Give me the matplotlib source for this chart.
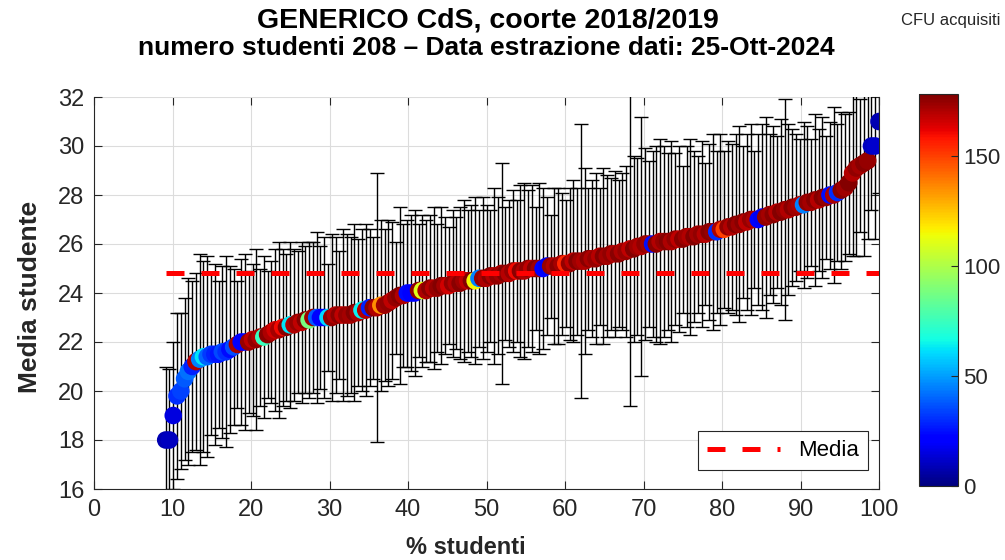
import numpy as np
import matplotlib
matplotlib.use("Agg")
import matplotlib.pyplot as plt

plt.rcParams.update({
    "font.family": ["Liberation Sans", "DejaVu Sans"],
    "axes.edgecolor": "#262626",
    "xtick.color": "#262626",
    "ytick.color": "#262626",
})

# dati: studenti ordinati per media crescente
N_STUDENTI = 208
PRIMO_RANGO = 19          # i primi 18 studenti non hanno esami -> non in grafico
MEDIA = 24.8              # media complessiva (linea tratteggiata)
CFU_MAX = 178

MEDIE = [
    18.0, 18.0, 19.0, 19.8, 20.0, 20.5, 20.8, 21.0, 21.2, 21.3,
    21.4, 21.4, 21.5, 21.5, 21.5, 21.6, 21.6, 21.7, 21.8, 21.9,
    22.0, 22.0, 22.0, 22.1, 22.1, 22.2, 22.2, 22.3, 22.4, 22.5,
    22.5, 22.6, 22.6, 22.7, 22.7, 22.8, 22.8, 22.9, 22.9, 23.0,
    23.0, 23.0, 23.0, 23.0, 23.0, 23.1, 23.1, 23.1, 23.1, 23.1,
    23.2, 23.2, 23.3, 23.3, 23.4, 23.4, 23.4, 23.5, 23.5, 23.6,
    23.7, 23.8, 23.9, 23.9, 24.0, 24.0, 24.0, 24.1, 24.1, 24.1,
    24.2, 24.2, 24.2, 24.3, 24.3, 24.3, 24.4, 24.4, 24.4, 24.5,
    24.5, 24.5, 24.5, 24.6, 24.6, 24.6, 24.7, 24.7, 24.7, 24.8,
    24.8, 24.8, 24.9, 24.9, 24.9, 24.9, 25.0, 25.0, 25.0, 25.0,
    25.0, 25.1, 25.1, 25.1, 25.1, 25.2, 25.2, 25.2, 25.3, 25.3,
    25.3, 25.3, 25.4, 25.4, 25.4, 25.5, 25.5, 25.5, 25.6, 25.6,
    25.6, 25.7, 25.7, 25.8, 25.8, 25.9, 25.9, 26.0, 26.0, 26.0,
    26.0, 26.1, 26.1, 26.1, 26.1, 26.2, 26.2, 26.2, 26.3, 26.3,
    26.3, 26.4, 26.4, 26.4, 26.5, 26.5, 26.5, 26.6, 26.6, 26.7,
    26.7, 26.8, 26.8, 26.9, 26.9, 27.0, 27.0, 27.0, 27.1, 27.1,
    27.2, 27.2, 27.3, 27.3, 27.4, 27.4, 27.5, 27.5, 27.6, 27.6,
    27.7, 27.7, 27.8, 27.8, 27.9, 27.9, 28.0, 28.0, 28.1, 28.2,
    28.3, 28.5, 28.9, 29.1, 29.2, 29.3, 29.4, 30.0, 30.0, 31.0,
]

DEV_STD = [
    3.0, 2.9, 3.0, 3.4, 3.2, 3.3, 3.8, 3.5, 3.6, 4.3,
    3.9, 4.1, 3.3, 3.7, 3.0, 3.5, 3.9, 3.4, 3.2, 2.6,
    3.4, 3.6, 2.9, 3.1, 3.7, 2.8, 3.3, 2.6, 2.9, 3.3,
    3.6, 3.2, 3.0, 3.4, 3.1, 2.9, 3.3, 3.0, 3.2, 3.1,
    3.5, 2.9, 3.3, 2.2, 3.4, 3.2, 2.6, 3.5, 3.3, 3.2,
    3.6, 3.0, 3.3, 3.5, 3.2, 2.9, 5.5, 3.5, 3.1, 3.4,
    3.2, 2.3, 3.6, 2.9, 3.0, 3.2, 3.4, 2.7, 3.1, 2.9,
    3.0, 3.3, 2.6, 3.2, 2.8, 2.4, 3.0, 2.7, 3.1, 3.3,
    2.9, 3.1, 3.4, 2.8, 3.3, 3.0, 2.7, 3.6, 3.2, 4.5,
    2.7, 3.0, 3.3, 2.9, 3.5, 3.6, 3.2, 3.4, 2.5, 3.5,
    3.3, 2.8, 2.1, 3.2, 3.2, 2.9, 2.6, 3.1, 3.3, 3.0,
    5.6, 3.8, 2.9, 3.2, 3.5, 2.8, 3.6, 3.3, 3.1, 3.4,
    3.0, 3.2, 3.5, 6.4, 3.8, 3.6, 5.3, 3.9, 3.4, 3.8,
    4.0, 4.2, 3.9, 3.6, 4.1, 3.5, 3.8, 3.0, 3.7, 4.0,
    3.5, 3.2, 3.8, 2.9, 3.6, 4.0, 3.3, 3.9, 3.2, 3.5,
    3.4, 3.7, 4.0, 3.1, 3.6, 3.9, 2.8, 3.5, 3.8, 4.1,
    3.3, 3.6, 3.1, 3.8, 4.5, 3.5, 3.2, 3.0, 2.7, 3.4,
    3.1, 2.6, 3.5, 2.9, 3.3, 2.5, 3.0, 3.6, 2.8, 3.2,
    3.0, 2.9, 3.4, 3.6, 2.7, 3.8, 3.2, 2.6, 3.8, 2.9,
]

CFU = [
    8, 10, 15, 30, 34, 38, 42, 28, 170, 45,
    62, 40, 32, 28, 26, 35, 30, 24, 36, 172,
    22, 20, 174, 168, 175, 170, 75, 176, 171, 165,
    172, 160, 176, 62, 170, 174, 168, 177, 88, 173,
    38, 20, 22, 60, 175, 170, 176, 168, 174, 172,
    177, 171, 64, 169, 28, 176, 170, 135, 173, 175,
    168, 174, 177, 170, 24, 20, 22, 175, 110, 171,
    176, 169, 174, 177, 172, 165, 175, 170, 176, 173,
    168, 177, 115, 45, 174, 171, 176, 170, 175, 172,
    177, 169, 174, 160, 176, 171, 175, 168, 177, 173,
    22, 18, 174, 170, 176, 172, 155, 175, 168, 177,
    173, 170, 176, 171, 174, 169, 177, 172, 175, 170,
    176, 171, 174, 168, 177, 173, 170, 175, 172, 25,
    176, 170, 174, 177, 171, 175, 168, 176, 173, 170,
    177, 172, 175, 169, 176, 174, 30, 171, 150, 175,
    170, 177, 173, 176, 168, 174, 171, 20, 18, 175,
    172, 176, 169, 177, 174, 170, 176, 173, 171, 45,
    175, 172, 176, 169, 177, 174, 25, 171, 30, 176,
    173, 177, 170, 175, 172, 176, 174, 10, 12, 8,
]

TITOLO = "GENERICO CdS, coorte 2018/2019"
SOTTOTITOLO = "numero studenti 208 \u2013 Data estrazione dati: 25-Ott-2024"

W, H = 1005, 560
fig = plt.figure(figsize=(W / 100, H / 100), dpi=100)
ax = fig.add_axes([94 / W, 1 - 489 / H, 785 / W, 392 / H])

perc = (PRIMO_RANGO + np.arange(len(MEDIE))) / N_STUDENTI * 100

ax.errorbar(perc, MEDIE, yerr=DEV_STD, fmt="none", ecolor="black",
            elinewidth=1.0, capsize=4.7, capthick=1.0, zorder=2)
sc = ax.scatter(perc, MEDIE, c=CFU, cmap="jet", vmin=0, vmax=CFU_MAX,
                s=160, edgecolors="none", zorder=3)
ax.plot([perc[0], perc[-1]], [MEDIA, MEDIA], color="#ff0000", lw=3.6,
        dashes=(3.6, 3.4), label="Media", zorder=4)

ax.set_xlim(0, 100)
ax.set_ylim(16, 32)
ax.set_xticks(np.arange(0, 101, 10))
ax.set_yticks(np.arange(16, 33, 2))
ax.tick_params(direction="in", top=True, right=True, length=6,
               width=0.8, labelsize=17, pad=7)
ax.grid(True, color="#dcdcdc", lw=0.8)
ax.set_axisbelow(True)
ax.spines["top"].set_visible(False)
for s in ("left", "bottom", "right"):
    ax.spines[s].set_linewidth(0.8)

leg = ax.legend(loc="lower right", bbox_to_anchor=(0.986, 0.048),
                borderaxespad=0, fontsize=16, handlelength=3.3,
                fancybox=False, framealpha=1, edgecolor="#262626")
leg.get_frame().set_linewidth(0.8)

cax = fig.add_axes([919 / W, 1 - 486 / H, 39 / W, 392 / H])
cb = fig.colorbar(sc, cax=cax, ticks=[0, 50, 100, 150])
cb.ax.tick_params(direction="in", length=5, labelsize=16, colors="#262626")
cb.outline.set_linewidth(0.8)
fig.text(951 / W, 1 - 21 / H, "CFU acquisiti", ha="center", va="center",
         fontsize=12, color="#262626")

fig.text(488 / W, 1 - 20 / H, TITOLO, ha="center", va="center",
         fontsize=20.5, fontweight="bold")
fig.text(486 / W, 1 - 48 / H, SOTTOTITOLO, ha="center", va="center",
         fontsize=19, fontweight="bold")
fig.text(30 / W, 1 - 297 / H, "Media studente", rotation=90, ha="center",
         va="center", fontsize=19, fontweight="bold", color="#262626")
fig.text(466 / W, 1 - 548 / H, "% studenti", ha="center", va="center",
         fontsize=17, fontweight="bold", color="#262626")

fig.savefig("out.png", dpi=100)
